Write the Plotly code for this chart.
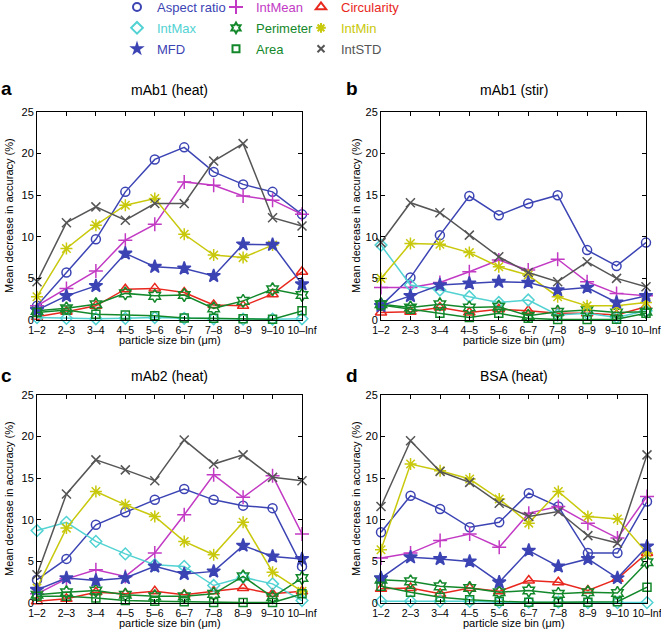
import plotly.graph_objects as go

bins = ["1–2", "2–3", "3–4", "4–5", "5–6", "6–7", "7–8", "8–9", "9–10", "10–Inf"]

panel_titles = ["mAb1 (heat)", "mAb1 (stir)", "mAb2 (heat)", "BSA (heat)"]
panel_letters = ["a", "b", "c", "d"]

series_names = ["Aspect ratio", "IntMean", "Circularity", "IntMax", "Perimeter",
                "IntMin", "MFD", "Area", "IntSTD"]

# panel a: mAb1 (heat)
a_aspect = [1.7, 5.7, 9.7, 15.4, 19.3, 20.75, 17.8, 16.3, 15.4, 12.7]
a_intmean = [1.7, 3.8, 5.9, 9.6, 11.5, 16.6, 16.2, 14.9, 14.4, 12.7]
a_circ = [0.4, 1.0, 1.7, 3.7, 3.8, 3.3, 1.8, 1.7, 3.1, 5.8]
a_intmax = [0.3, 0.2, 0.15, 0.2, 0.3, 0.2, 0.15, 0.1, 0.1, 0.15]
a_perim = [1.1, 1.4, 1.9, 3.2, 2.9, 3.0, 1.4, 2.3, 3.7, 3.0]
a_intmin = [2.8, 8.6, 11.4, 13.8, 14.6, 10.3, 7.8, 7.5, 9.0, None]
a_mfd = [1.2, 2.9, 4.1, 8.0, 6.4, 6.2, 5.3, 9.1, 9.05, 4.3]
a_area = [0.9, 1.2, 0.7, 0.6, 0.5, 0.25, 0.2, 0.15, 0.1, 1.1]
a_intstd = [4.6, 11.7, 13.6, 12.0, 14.0, 14.0, 19.1, 21.2, 12.3, 11.3]

# panel b: mAb1 (stir)
b_aspect = [1.7, 5.1, 10.2, 14.9, 12.6, 14.0, 15.0, 8.4, 6.5, 9.3]
b_intmean = [3.9, 3.9, 4.5, 5.8, 7.2, 6.0, 7.3, 4.6, 3.2, 2.9]
b_circ = [0.9, 1.0, 1.5, 0.9, 1.3, 1.1, 0.8, 0.8, 0.6, 1.6]
b_intmax = [9.0, 4.2, 3.6, 2.8, 2.1, 2.4, 0.6, 0.8, 0.3, 1.1]
b_perim = [1.9, 1.5, 1.9, 1.5, 1.6, 0.5, 1.0, 1.2, 0.9, 1.0]
b_intmin = [5.0, 9.2, 9.1, 8.1, 6.4, 5.4, 2.8, 1.7, 1.7, 2.1]
b_mfd = [1.7, 2.9, 4.2, 4.4, 4.6, 4.5, 3.6, 3.9, 2.1, 2.9]
b_area = [1.8, 1.3, 0.8, 0.3, 0.8, 0.2, 0.05, 0.05, 0.1, 0.8]
b_intstd = [9.3, 14.1, 12.9, 10.2, 7.6, 5.7, 4.6, 7.0, 5.0, 4.0]

# panel c: mAb2 (heat)
c_aspect = [2.8, 5.3, 9.4, 10.9, 12.4, 13.7, 12.4, 11.7, 11.4, 4.4]
c_intmean = [1.1, 2.9, 4.0, 3.2, 6.0, 10.6, 15.4, 12.7, 15.3, 8.3]
c_circ = [0.2, 0.5, 1.3, 1.1, 1.4, 1.0, 1.4, 1.8, 1.1, 1.4]
c_intmax = [8.7, 9.7, 7.4, 5.9, 4.6, 4.4, 2.1, 3.1, 2.3, 0.3]
c_perim = [1.0, 1.3, 1.5, 1.0, 0.8, 0.8, 1.1, 3.2, 0.7, 3.0]
c_intmin = [1.8, 9.0, 13.4, 11.8, 10.4, 7.4, 5.8, 9.7, 3.7, 1.4]
c_mfd = [1.6, 3.0, 2.7, 3.0, 4.4, 3.5, 3.8, 6.9, 5.6, 5.3]
c_area = [0.8, 0.8, 0.6, 0.3, 0.2, 0.15, 0.05, 0.05, 0.05, 1.1]
c_intstd = [3.4, 13.1, 17.2, 16.0, 14.7, 19.6, 16.7, 17.8, 15.1, 14.7]

# panel d: BSA (heat)
d_aspect = [8.5, 12.9, 11.3, 9.1, 9.7, 13.2, 11.6, 6.0, 6.0, 12.2]
d_intmean = [5.4, 6.0, 7.5, 8.3, 6.7, 10.8, 11.6, 9.6, 7.8, 12.8]
d_circ = [1.7, 1.8, 1.1, 1.8, 1.4, 2.7, 2.5, 1.5, 2.9, 6.0]
d_intmax = [0.2, 0.2, 0.2, 0.2, 0.1, 0.1, 0.1, 0.05, 0.05, 0.05]
d_perim = [2.8, 2.6, 2.0, 1.8, 1.3, 1.5, 1.1, 1.3, 1.2, 4.9]
d_intmin = [6.4, 16.7, 15.9, 14.9, 12.5, 9.6, 13.4, 10.4, 10.1, 6.0]
d_mfd = [3.0, 5.5, 5.3, 5.0, 2.5, 6.3, 4.4, 5.3, 3.0, 6.8]
d_area = [2.0, 1.3, 0.7, 0.4, 0.2, 0.1, 0.1, 0.1, 0.15, 1.9]
d_intstd = [11.6, 19.5, 15.8, 14.5, 12.0, 10.4, 11.0, 8.1, 7.2, 17.8]

panels = [
    [a_aspect, a_intmean, a_circ, a_intmax, a_perim, a_intmin, a_mfd, a_area, a_intstd],
    [b_aspect, b_intmean, b_circ, b_intmax, b_perim, b_intmin, b_mfd, b_area, b_intstd],
    [c_aspect, c_intmean, c_circ, c_intmax, c_perim, c_intmin, c_mfd, c_area, c_intstd],
    [d_aspect, d_intmean, d_circ, d_intmax, d_perim, d_intmin, d_mfd, d_area, d_intstd],
]

BLUE = "#3c44b4"
MAG = "#c23ac4"
RED = "#e8281e"
CYAN = "#52d2d2"
GREEN = "#13882b"
YEL = "#c8c80c"
GRAY = "#555555"

styles = {
    "Aspect ratio": dict(color=BLUE, symbol="circle-open", size=9, lsize=8, legend="legend"),
    "IntMean": dict(color=MAG, symbol="cross-thin-open", size=10, lsize=10, legend="legend2"),
    "Circularity": dict(color=RED, symbol="triangle-up-open", size=10, lsize=9, legend="legend3"),
    "IntMax": dict(color=CYAN, symbol="diamond-open", size=9, lsize=9, legend="legend"),
    "Perimeter": dict(color=GREEN, symbol="hexagram-open", size=10, lsize=8, legend="legend2"),
    "IntMin": dict(color=YEL, symbol="asterisk-open", size=10, lsize=8, legend="legend3"),
    "MFD": dict(color=BLUE, symbol="star", size=10, lsize=7, legend="legend"),
    "Area": dict(color=GREEN, symbol="square-open", size=8, lsize=7, legend="legend2"),
    "IntSTD": dict(color=GRAY, symbol="x-thin-open", size=9, lsize=7, legend="legend3"),
}

FONT = "Liberation Sans, Arial, sans-serif"

W, H = 661, 633
# pixel boxes of plot areas: (left, right, top, bottom)
boxes = [(37, 302, 112, 320), (381, 646, 112, 320), (37, 302, 395, 603), (381, 647, 395, 603)]

fig = go.Figure()

for p in range(4):
    ax = "" if p == 0 else str(p + 1)
    for name, vals in zip(series_names, panels[p]):
        st = styles[name]
        fig.add_trace(go.Scatter(
            x=bins, y=vals, mode="lines+markers", name=name,
            xaxis="x" + ax, yaxis="y" + ax, showlegend=False, cliponaxis=False,
            line=dict(color=st["color"], width=1.5),
            marker=dict(symbol=st["symbol"], size=st["size"], color=st["color"],
                        line=dict(color=st["color"], width=1.5)),
        ))

# legend-only entries (markers only, as in the reference key)
for name in series_names:
    st = styles[name]
    fig.add_trace(go.Scatter(
        x=[None], y=[None], mode="markers", xaxis="x", yaxis="y",
        name='<span style="color:%s">%s</span>' % (st["color"], name),
        legend=st["legend"], legendgroup=name, showlegend=True,
        marker=dict(symbol=st["symbol"], size=st["lsize"], color=st["color"],
                    line=dict(color=st["color"], width=2)),
    ))

layout = dict(
    width=W, height=H, margin=dict(l=0, r=0, t=0, b=0, autoexpand=False),
    paper_bgcolor="white", plot_bgcolor="white",
    font=dict(family=FONT, size=11, color="black"),
    showlegend=True,
)

for p, (l, r, t, b) in enumerate(boxes):
    ax = "" if p == 0 else str(p + 1)
    layout["xaxis" + ax] = dict(
        domain=[l / W, r / W], anchor="y" + ax, type="category", range=[0, 9],
        showline=True, linecolor="black", linewidth=1, mirror="ticks",
        ticks="inside", ticklen=4, tickcolor="black", showgrid=False, zeroline=False,
        tickangle=0, tickfont=dict(size=10.5, family=FONT, color="black"), fixedrange=True,
        automargin=False,
    )
    layout["yaxis" + ax] = dict(
        domain=[1 - b / H, 1 - t / H], anchor="x" + ax, range=[0, 25],
        tickvals=[0, 5, 10, 15, 20, 25],
        showline=True, linecolor="black", linewidth=1, mirror="ticks",
        ticks="inside", ticklen=4, tickcolor="black", showgrid=False, zeroline=False,
        tickfont=dict(size=11, family=FONT, color="black"), fixedrange=True,
        automargin=False,
    )

legend_common = dict(yanchor="top", xanchor="left", y=1 + 8 / H, bgcolor="rgba(0,0,0,0)",
                     font=dict(family=FONT, size=13), tracegroupgap=1,
                     itemclick=False, itemdoubleclick=False, borderwidth=0)
layout["legend"] = dict(x=117 / W, **legend_common)
layout["legend2"] = dict(x=216 / W, **legend_common)
layout["legend3"] = dict(x=301 / W, **legend_common)

annotations = []
for p, (l, r, t, b) in enumerate(boxes):
    cx = (l + r) / 2
    ty = t - 22 if p < 2 else t - 19
    annotations.append(dict(text=panel_titles[p], x=cx / W, y=1 - ty / H, xref="paper", yref="paper",
                            showarrow=False, xanchor="center", yanchor="middle",
                            font=dict(size=14, family=FONT)))
    lx = 6 if p % 2 == 0 else 352
    annotations.append(dict(text="<b>%s</b>" % panel_letters[p], x=lx / W, y=1 - (ty - 1) / H,
                            xref="paper", yref="paper", showarrow=False,
                            xanchor="center", yanchor="middle", font=dict(size=19, family=FONT)))
    yx = 9 if p % 2 == 0 else 356
    annotations.append(dict(text="Mean decrease in accuracy (%)", x=yx / W, y=1 - ((t + b) / 2) / H,
                            xref="paper", yref="paper", showarrow=False, textangle=-90,
                            xanchor="center", yanchor="middle", font=dict(size=11, family=FONT)))
    annotations.append(dict(text="particle size bin (μm)", x=cx / W, y=1 - (b + 20) / H,
                            xref="paper", yref="paper", showarrow=False,
                            xanchor="center", yanchor="middle", font=dict(size=11, family=FONT)))
layout["annotations"] = annotations

fig.update_layout(**layout)
fig.write_html("out.html", config={"displayModeBar": False},
               post_script="document.body.style.margin='0';document.body.style.overflow='hidden';")
